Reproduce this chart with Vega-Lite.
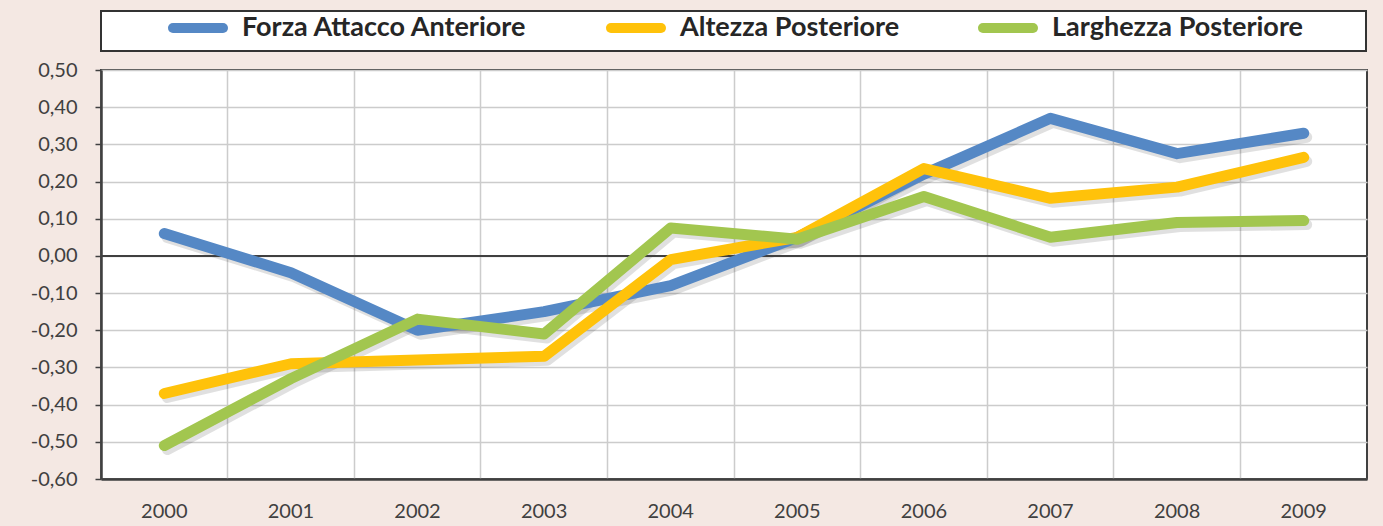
{
  "$schema": "https://vega.github.io/schema/vega-lite/v6.json",
  "width": 1383,
  "height": 526,
  "autosize": {"type": "fit", "contains": "padding"},
  "padding": {"left": 30, "top": 10, "right": 15, "bottom": 5},
  "background": "#f4e8e3",
  "config": {
    "locale": {"number": {"decimal": ",", "thousands": ".", "grouping": [3], "currency": ["€", ""], "minus": "-"}},
    "view": {"stroke": "#404040", "strokeWidth": 2, "fill": "white"},
    "font": "Lato"
  },
  "data": {"values": [
    {"year": "2000", "series": "Forza Attacco Anteriore", "value": 0.06},
    {"year": "2001", "series": "Forza Attacco Anteriore", "value": -0.045},
    {"year": "2002", "series": "Forza Attacco Anteriore", "value": -0.2},
    {"year": "2003", "series": "Forza Attacco Anteriore", "value": -0.15},
    {"year": "2004", "series": "Forza Attacco Anteriore", "value": -0.08},
    {"year": "2005", "series": "Forza Attacco Anteriore", "value": 0.05},
    {"year": "2006", "series": "Forza Attacco Anteriore", "value": 0.22},
    {"year": "2007", "series": "Forza Attacco Anteriore", "value": 0.37},
    {"year": "2008", "series": "Forza Attacco Anteriore", "value": 0.275},
    {"year": "2009", "series": "Forza Attacco Anteriore", "value": 0.33},
    {"year": "2000", "series": "Altezza Posteriore", "value": -0.37},
    {"year": "2001", "series": "Altezza Posteriore", "value": -0.29},
    {"year": "2002", "series": "Altezza Posteriore", "value": -0.28},
    {"year": "2003", "series": "Altezza Posteriore", "value": -0.27},
    {"year": "2004", "series": "Altezza Posteriore", "value": -0.01},
    {"year": "2005", "series": "Altezza Posteriore", "value": 0.05},
    {"year": "2006", "series": "Altezza Posteriore", "value": 0.235},
    {"year": "2007", "series": "Altezza Posteriore", "value": 0.155},
    {"year": "2008", "series": "Altezza Posteriore", "value": 0.185},
    {"year": "2009", "series": "Altezza Posteriore", "value": 0.265},
    {"year": "2000", "series": "Larghezza Posteriore", "value": -0.51},
    {"year": "2001", "series": "Larghezza Posteriore", "value": -0.33},
    {"year": "2002", "series": "Larghezza Posteriore", "value": -0.17},
    {"year": "2003", "series": "Larghezza Posteriore", "value": -0.21},
    {"year": "2004", "series": "Larghezza Posteriore", "value": 0.075},
    {"year": "2005", "series": "Larghezza Posteriore", "value": 0.045},
    {"year": "2006", "series": "Larghezza Posteriore", "value": 0.16},
    {"year": "2007", "series": "Larghezza Posteriore", "value": 0.05},
    {"year": "2008", "series": "Larghezza Posteriore", "value": 0.09},
    {"year": "2009", "series": "Larghezza Posteriore", "value": 0.095}
  ]},
  "layer": [
    {
      "mark": {"type": "line", "strokeWidth": 11, "strokeCap": "round", "strokeJoin": "round", "color": "#000000", "opacity": 0.12, "xOffset": 3, "yOffset": 4},
      "encoding": {
        "x": {"field": "year", "type": "ordinal", "scale": {"type": "band", "paddingInner": 0, "paddingOuter": 0}, "bandPosition": 0.5,
          "axis": {"title": null, "labelAngle": 0, "grid": true, "bandPosition": 0, "ticks": false, "domain": true, "domainColor": "#404040", "domainWidth": 2.5, "labelPadding": 22, "labelFontSize": 20, "labelColor": "#404040", "gridColor": "#cccccc", "gridWidth": 1.5}},
        "y": {"field": "value", "type": "quantitative", "scale": {"domain": [-0.6, 0.5], "nice": false, "zero": false},
          "axis": {"title": null, "values": [-0.6, -0.5, -0.4, -0.3, -0.2, -0.1, 0, 0.1, 0.2, 0.3, 0.4, 0.5], "tickCount": 30, "format": ".2f", "labelOverlap": false, "grid": true, "gridColor": "#cccccc", "gridWidth": 1.5, "domainColor": "#404040", "domainWidth": 2.5, "tickColor": "#404040", "tickSize": 6, "tickWidth": 1.5, "labelPadding": 18, "labelFontSize": 20, "labelColor": "#404040"}},
        "detail": {"field": "series"}
      }
    },
    {
      "data": {"values": [{"value": 0}]},
      "mark": {"type": "rule", "color": "#404040", "strokeWidth": 2},
      "encoding": {"y": {"field": "value", "type": "quantitative", "scale": {"domain": [-0.6, 0.5], "nice": false, "zero": false},
          "axis": {"title": null, "values": [-0.6, -0.5, -0.4, -0.3, -0.2, -0.1, 0, 0.1, 0.2, 0.3, 0.4, 0.5], "tickCount": 30, "format": ".2f", "labelOverlap": false, "grid": true, "gridColor": "#cccccc", "gridWidth": 1.5, "domainColor": "#404040", "domainWidth": 2.5, "tickColor": "#404040", "tickSize": 6, "tickWidth": 1.5, "labelPadding": 18, "labelFontSize": 20, "labelColor": "#404040"}}}
    },
    {
      "mark": {"type": "line", "strokeWidth": 11, "strokeCap": "round", "strokeJoin": "round"},
      "encoding": {
        "x": {"field": "year", "type": "ordinal", "scale": {"type": "band", "paddingInner": 0, "paddingOuter": 0}, "bandPosition": 0.5,
          "axis": {"title": null, "labelAngle": 0, "grid": true, "bandPosition": 0, "ticks": false, "domain": true, "domainColor": "#404040", "domainWidth": 2.5, "labelPadding": 22, "labelFontSize": 20, "labelColor": "#404040", "gridColor": "#cccccc", "gridWidth": 1.5}},
        "y": {"field": "value", "type": "quantitative", "scale": {"domain": [-0.6, 0.5], "nice": false, "zero": false},
          "axis": {"title": null, "values": [-0.6, -0.5, -0.4, -0.3, -0.2, -0.1, 0, 0.1, 0.2, 0.3, 0.4, 0.5], "tickCount": 30, "format": ".2f", "labelOverlap": false, "grid": true, "gridColor": "#cccccc", "gridWidth": 1.5, "domainColor": "#404040", "domainWidth": 2.5, "tickColor": "#404040", "tickSize": 6, "tickWidth": 1.5, "labelPadding": 18, "labelFontSize": 20, "labelColor": "#404040"}},
        "color": {"field": "series", "type": "nominal",
          "scale": {"domain": ["Forza Attacco Anteriore", "Altezza Posteriore", "Larghezza Posteriore"], "range": ["#5588c5", "#ffc20a", "#a2c64f"]},
          "legend": {
            "orient": "top", "direction": "horizontal",
            "title": "\u00a0", "titleOrient": "right", "titlePadding": 60, "titleFontSize": 10,
            "symbolType": "M-2.78,0H2.78", "symbolSize": 324, "symbolStrokeWidth": 10, "symbolOpacity": 1, "symbolOffset": 80,
            "labelFont": "Lato", "labelFontSize": 27, "labelFontWeight": "bold", "labelColor": "#262626", "labelLimit": 600,
            "labelOffset": 30, "columnPadding": 14,
            "fillColor": "white", "strokeColor": "#333333", "padding": 3, "offset": 19,
            "encode": {"symbols": {"update": {"strokeCap": {"value": "round"}}}, "legend": {"update": {"strokeWidth": {"value": 2}}}}
          }
        }
      }
    }
  ]
}
